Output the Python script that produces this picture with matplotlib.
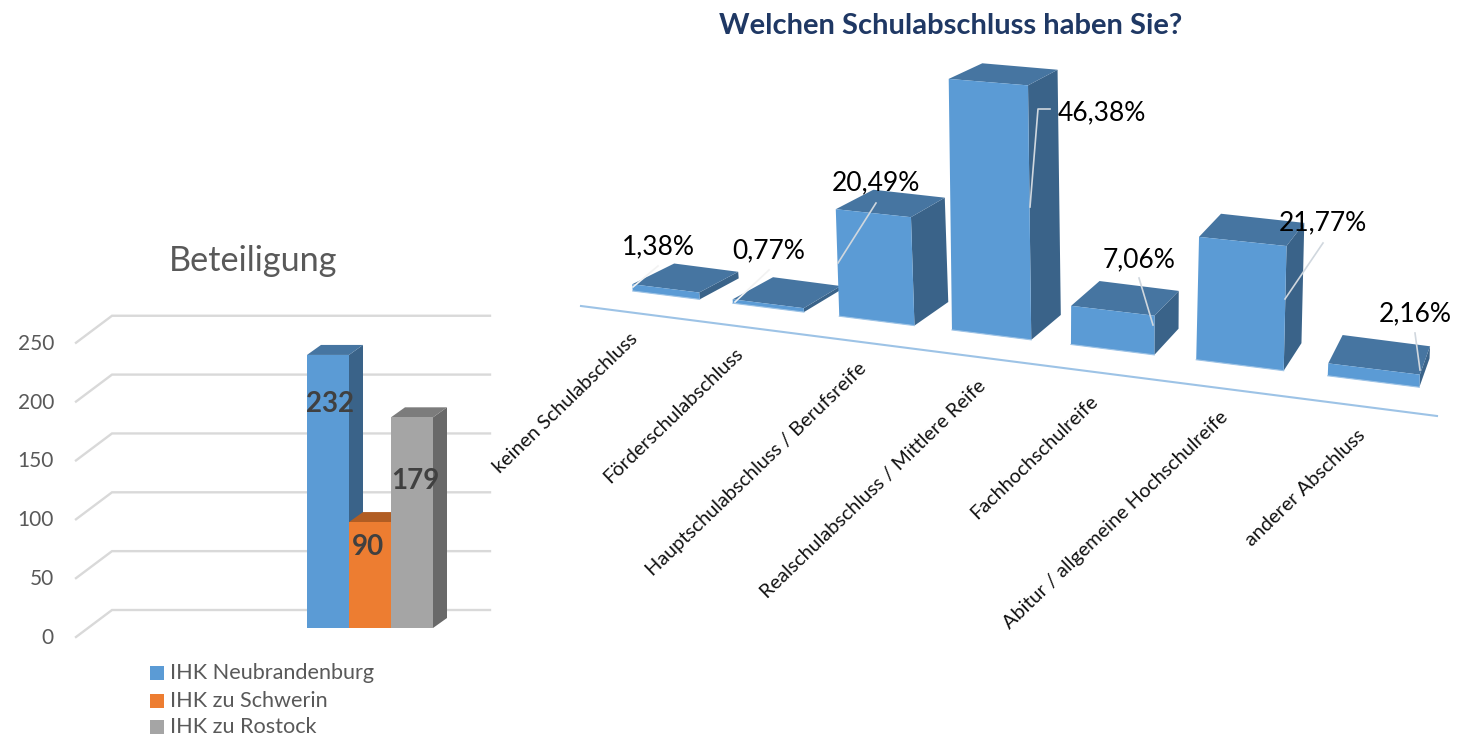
import matplotlib
matplotlib.use("Agg")
import matplotlib.pyplot as plt
from matplotlib.patches import Polygon, Rectangle

plt.rcParams["font.family"] = ["Lato", "DejaVu Sans"]

# Data left chart
series_names = ["IHK Neubrandenburg", "IHK zu Schwerin", "IHK zu Rostock"]
series_values = [232, 90, 179]
axis_ticks = [0, 50, 100, 150, 200, 250]

# Data right chart
categories = ["keinen Schulabschluss", "Förderschulabschluss", "Hauptschulabschluss / Berufsreife",
              "Realschulabschluss / Mittlere Reife", "Fachhochschulreife",
              "Abitur / allgemeine Hochschulreife", "anderer Abschluss"]
percents = [1.38, 0.77, 20.49, 46.38, 7.06, 21.77, 2.16]

# Colours (front, top, side)
blue = ("#5B9BD5", "#4675A1", "#3A6389")
orange = ("#ED7D31", "#B15D23", "#B15D23")
grey = ("#A5A5A5", "#7C7C7C", "#696969")
series_colors = [blue, orange, grey]

W, H = 1463, 738
fig = plt.figure(figsize=(W / 100, H / 100), dpi=100)

# Pixel canvas for the right chart and the free text
ax = fig.add_axes([0, 0, 1, 1])
ax.set_xlim(0, W)
ax.set_ylim(H, 0)
ax.axis("off")
ax.set_zorder(2)

# Left chart: y axis is in real values, x is in pixels
PX_PER_UNIT = 1.177
ax_left = fig.add_axes([0, 0, 500 / W, 1])
ax_left.set_xlim(0, 500)
ax_left.set_ylim((628 - H) / PX_PER_UNIT, 628 / PX_PER_UNIT)
ax_left.axis("off")
ax_left.set_zorder(1)

# Gridlines, back wall and floor
for t in axis_ticks:
    back = t + 18 / PX_PER_UNIT
    front = t - 9 / PX_PER_UNIT
    ax_left.plot([76, 112, 490], [front, back, back], color="#D9D9D9", lw=1.7, solid_joinstyle="miter", zorder=1)
    ax_left.text(54, front - 1 / PX_PER_UNIT, str(t), ha="right", va="center", fontsize=15, color="#595959")

# 3D columns
bar_w = 42
dx = 14
dz = 10 / PX_PER_UNIT
for i, v in enumerate(series_values):
    x0 = 307 + i * bar_w
    x1 = x0 + bar_w
    front, top, side = series_colors[i]
    ax_left.add_patch(Polygon([(x1, 0), (x1 + dx, dz), (x1 + dx, v + dz), (x1, v)], color=side, lw=0, zorder=2 + i))
    ax_left.add_patch(Polygon([(x0, v), (x0 + dx, v + dz), (x1 + dx, v + dz), (x1, v)], color=top, lw=0, zorder=2 + i))
    ax_left.add_patch(Rectangle((x0, 0), bar_w, v, color=front, lw=0, zorder=2 + i))

# Value labels sit at odd spots in the original
value_label_x = [330, 368, 415]
value_label_px = [404, 547, 481]
for i, v in enumerate(series_values):
    ax.text(value_label_x[i], value_label_px[i], str(v), ha="center", va="center",
            fontsize=20, fontweight="bold", color="#404040", zorder=20)

ax.text(253, 261, "Beteiligung", ha="center", va="center", fontsize=24.7, color="#595959")

# Legend, last row pulled up a little so it stays inside the image
legend_y = [673, 701, 727]
for i, name in enumerate(series_names):
    ax.add_patch(Rectangle((150, legend_y[i] - 7), 14, 14, color=series_colors[i][0], lw=0))
    ax.text(170, legend_y[i], name, ha="left", va="center", fontsize=15.6, color="#595959")


# Right chart: simple perspective fitted to the picture
def project(i, v):
    left = 632.7 + 97 * i + 3.14 * i ** 2
    width = 67 + 4.1 * i
    base_y = 291 + 0.122 * (left - 632.7)
    h = (4.9 + 0.14 * i + 0.002 * v) * v
    lean = 0.1 * (i - 3.7) * v
    slope = 0.125
    top_slope = slope * (1 - 0.0075 * v)
    base_dy = 21 + 1.3 * i
    top_dy = base_dy - 0.2 * v
    dx_l = 42 - i - 0.6 * i ** 2
    dx_r = 39 - 1.5 * i - 0.55 * i ** 2
    bl = (left, base_y)
    br = (left + width, base_y + slope * width)
    tl = (left + lean, base_y - h)
    tr = (left + width + lean, base_y - h + top_slope * width)
    back_l = (tl[0] + dx_l, tl[1] - top_dy)
    back_r = (tr[0] + dx_r, tr[1] - top_dy)
    back_b = (br[0] + dx_r, br[1] - base_dy)
    return bl, br, tl, tr, back_l, back_r, back_b


front, top, side = blue
for i, v in enumerate(percents):
    bl, br, tl, tr, back_l, back_r, back_b = project(i, v)
    ax.add_patch(Polygon([br, back_b, back_r, tr], color=side, lw=0, zorder=3))
    ax.add_patch(Polygon([tl, back_l, back_r, tr], color=top, lw=0, zorder=3))
    ax.add_patch(Polygon([bl, br, tr, tl], color=front, lw=0, zorder=3))
    # light bottom edge
    ax.plot([bl[0], br[0]], [bl[1], br[1]], color="#9DC3E6", lw=0.8, zorder=3)

# Axis line
ax.plot([581, 1437], [306, 416], color="#9DC3E6", lw=1.5, zorder=2)

# Category labels
label_end_x = [635, 740, 864, 983, 1095, 1225, 1363]
label_end_y = [336, 351, 366, 383, 398, 414, 433]
for i, c in enumerate(categories):
    ax.text(label_end_x[i], label_end_y[i], c, rotation=44, rotation_mode="anchor", ha="right", va="center",
            fontsize=14.3, color="#111111")

# Percent labels and leader lines
pct_x = [658, 769, 876, 1102, 1139, 1323, 1415]
pct_y = [247, 251, 183, 113, 260, 223, 314]
leader_x = [[633, 658], [735, 769], [838, 876], [1030, 1038, 1050], [1153, 1139], [1285, 1323], [1420, 1415]]
leader_y = [[287, 266], [302, 270], [263, 203], [207, 109, 109], [325, 278], [299, 243], [370, 333]]
leader_c = ["#F2F2F2", "#F2F2F2", "#D0D7DE", "#D0D7DE", "#D0D7DE", "#D0D7DE", "#D0D7DE"]
for i, v in enumerate(percents):
    ax.plot(leader_x[i], leader_y[i], color=leader_c[i], lw=1.2, zorder=5)
    ax.text(pct_x[i], pct_y[i], f"{v:.2f}".replace(".", ",") + "%", ha="center", va="center",
            fontsize=19, color="black", zorder=6)

ax.text(951, 26, "Welchen Schulabschluss haben Sie?", ha="center", va="center", fontsize=21,
        fontweight="bold", color="#1F3864")

fig.savefig("out.png", dpi=100)
